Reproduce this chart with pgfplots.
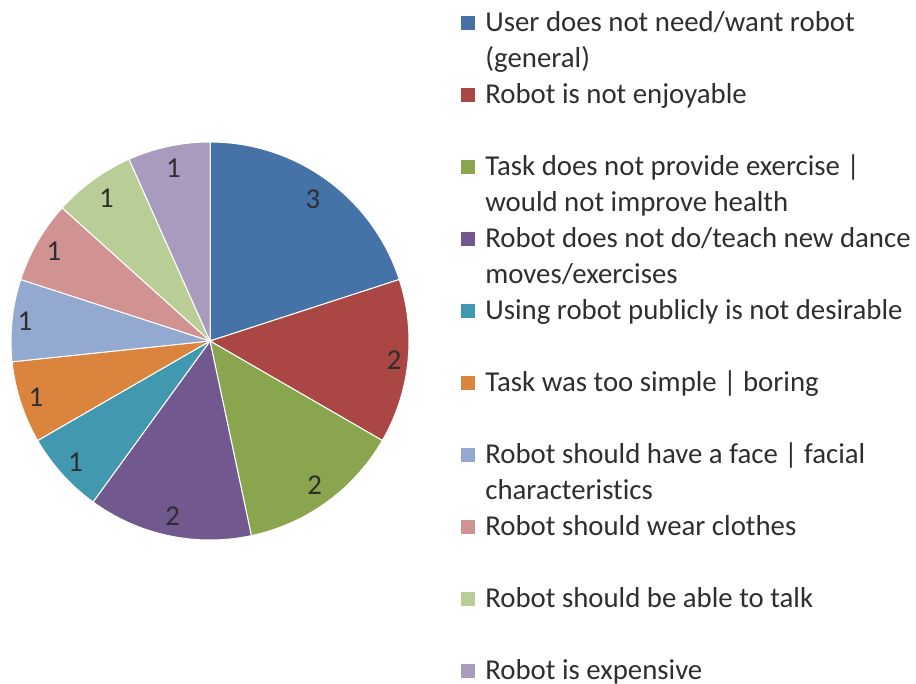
\documentclass[border=0pt]{standalone}
\usepackage{pgfplots}
\pgfplotsset{compat=1.18}
\usepackage{pgfplotstable}
\usepgfplotslibrary{polar}
\usepackage{fontspec}
\setmainfont{Carlito}[Ligatures=NoCommon]

\definecolor{c0}{HTML}{4572A7}
\definecolor{c1}{HTML}{AA4643}
\definecolor{c2}{HTML}{89A54E}
\definecolor{c3}{HTML}{71588F}
\definecolor{c4}{HTML}{4198AF}
\definecolor{c5}{HTML}{DB843D}
\definecolor{c6}{HTML}{93A9CF}
\definecolor{c7}{HTML}{D19392}
\definecolor{c8}{HTML}{B9CD96}
\definecolor{c9}{HTML}{A99BBD}
\definecolor{txt}{HTML}{2E2E2E}

% counts per reason (15 in total); lr = radius of the value label
\pgfplotstableread[col sep=comma]{
count,lr,label
3,0.88,User does not need/want robot (general)
2,0.93,Robot is not enjoyable
2,0.895,Task does not provide exercise | would not improve health
2,0.90,Robot does not do/teach new dance moves/exercises
1,0.91,Using robot publicly is not desirable
1,0.92,Task was too simple | boring
1,0.935,Robot should have a face | facial characteristics
1,0.905,Robot should wear clothes
1,0.885,Robot should be able to talk
1,0.885,Robot is expensive
}\piedata
\def\total{15}

\newcommand\legfont{\fontsize{14.4}{18}\selectfont\color{txt}}
\newcommand\legtext[1]{\parbox[t]{216pt}{\raggedright\hyphenpenalty=10000 #1}}

\begin{document}
\begin{tikzpicture}
\begin{polaraxis}[
    name=pie,
    scale only axis,
    width=199pt, height=199pt,
    xmin=0, xmax=360, ymin=0, ymax=1,
    hide axis,
    clip=false,
    legend image code/.code={\fill[#1] (0pt,0.3pt) rectangle (7.7pt,8pt);},
    % every legend row is 36pt high: 14pt above the first baseline, 22pt below it
    legend style={at={(1.1281,1.3492)}, anchor=north west, draw=none, fill=none,
        inner sep=0pt, outer sep=0pt, row sep=0pt, column sep=4.5pt,
        nodes={inner sep=0pt, outer sep=0pt, text height=14pt, text depth=22pt},
        cells={anchor=base west}, font=\legfont},
]
    \coordinate (O) at (axis cs:0,0);
    \def\astart{90}
    \pgfplotsforeachungrouped \i in {0,...,9}{%
        \pgfplotstablegetelem{\i}{count}\of\piedata \let\cnt=\pgfplotsretval
        \pgfplotstablegetelem{\i}{lr}\of\piedata \let\lrad=\pgfplotsretval
        \pgfplotstablegetelem{\i}{label}\of\piedata \let\lbl=\pgfplotsretval
        \pgfmathsetmacro\aend{\astart-360*\cnt/\total}
        \pgfmathsetmacro\amid{(\astart+\aend)/2}
        \edef\cmd{%
            \noexpand\addplot[fill=c\i, draw=white, line width=0.5pt, no markers,
                domain=\aend:\astart, samples=60] {1} -- (axis cs:0,0) -- cycle;
            \noexpand\addlegendentry{\noexpand\legtext{\unexpanded\expandafter{\lbl}}}
            \noexpand\node[font=\noexpand\legfont] at (axis cs:\amid,\lrad) {\cnt};
        }%
        \cmd
        \let\astart=\aend
    }
\end{polaraxis}
\pgfresetboundingbox
\path (O) ++(-105pt,170.5pt) rectangle ++(458pt,-342pt);
\end{tikzpicture}
\end{document}
